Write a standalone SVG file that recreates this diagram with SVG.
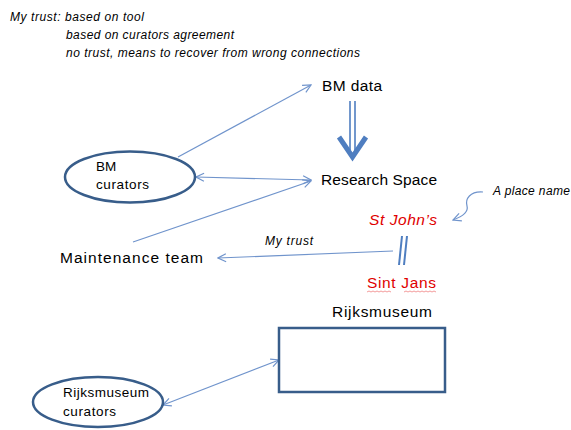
<svg xmlns="http://www.w3.org/2000/svg" width="571" height="430" viewBox="0 0 571 430">
<defs>
<style>
.t{font-family:"Liberation Sans",Arial,sans-serif;fill:#000}
.n{font-size:15.5px}
.s{font-size:13.5px}
.i{font-style:italic;font-size:12px}
.red{fill:#e00000;font-size:15.5px}
.c{fill:none;stroke:#7094cc;stroke-width:1.2}
.shape{fill:#fff;stroke:#385d8a;stroke-width:2.5}
.wave{fill:none;stroke:#f08080;stroke-width:0.8}
</style>
<marker id="ah" markerWidth="10" markerHeight="10" refX="9" refY="5" orient="auto-start-reverse" markerUnits="userSpaceOnUse">
<path d="M1,1 L9,5 L1,9" fill="none" stroke="#7094cc" stroke-width="1.2"/>
</marker>
</defs>
<rect width="571" height="430" fill="#fff"/>

<g id="notes">
<text class="t i" x="10" y="21" textLength="134">My trust: based on tool</text>
<text class="t i" x="66" y="39" textLength="168">based on curators agreement</text>
<text class="t i" x="66" y="57" textLength="294">no trust, means to recover from wrong connections</text>
</g>

<g id="connectors">
<line class="c" x1="178" y1="157" x2="311" y2="85" marker-end="url(#ah)"/>
<line class="c" x1="196" y1="177" x2="311" y2="180" marker-start="url(#ah)" marker-end="url(#ah)"/>
<line class="c" x1="133" y1="242" x2="311" y2="181" marker-end="url(#ah)"/>
<line class="c" x1="393" y1="251" x2="218" y2="258" marker-end="url(#ah)"/>
<line class="c" x1="163" y1="405" x2="279" y2="360" marker-start="url(#ah)" marker-end="url(#ah)"/>
<path class="c" d="M483,192 C470,191 465,199 467,206 C469,213 461,217 453,220" marker-end="url(#ah)"/>
<g id="bm-to-rs" stroke="#4f7ec0" fill="none">
<line x1="350" y1="101" x2="350" y2="152" stroke-width="1.6"/>
<line x1="355" y1="101" x2="355" y2="152" stroke-width="1.6"/>
<path d="M339,137 L352.5,157 L366,137" stroke-width="5" stroke-linejoin="miter"/>
</g>
<g id="equiv" stroke="#4f7ec0" stroke-width="2">
<line x1="402" y1="236" x2="399" y2="265"/>
<line x1="407" y1="236" x2="404" y2="265"/>
</g>
</g>

<g id="bm-data">
<text class="t n" x="322" y="90.5" textLength="60">BM data</text>
</g>

<g id="research-space">
<text class="t n" x="321" y="185" textLength="116">Research Space</text>
</g>

<g id="bm-curators">
<ellipse class="shape" cx="130" cy="177" rx="65" ry="25.5"/>
<text class="t s" x="96" y="170.5">BM</text>
<text class="t s" x="96" y="188.5" textLength="53">curators</text>
</g>

<g id="maintenance-team">
<text class="t n" x="60" y="263" textLength="143">Maintenance team</text>
</g>

<g id="my-trust-label">
<text class="t i" x="265" y="245" textLength="48">My trust</text>
</g>

<g id="st-johns">
<text class="t red" font-style="italic" x="369" y="225" textLength="68">St John’s</text>
</g>

<g id="place-name">
<text class="t i" x="493" y="195" textLength="77">A place name</text>
</g>

<g id="sint-jans">
<text class="t red" x="367" y="288" textLength="69">Sint Jans</text>
<path class="wave" d="M367,292 l2,-1 l2,1 l2,-1 l2,1 l2,-1 l2,1 l2,-1 l2,1 l2,-1 l2,1 l2,-1 l2,1"/>
<path class="wave" d="M404,292 l2,-1 l2,1 l2,-1 l2,1 l2,-1 l2,1 l2,-1 l2,1 l2,-1 l2,1 l2,-1 l2,1 l2,-1 l2,1 l2,-1 l2,1"/>
</g>

<g id="rijksmuseum">
<text class="t n" x="332" y="317" textLength="100">Rijksmuseum</text>
<rect class="shape" x="279" y="328" width="166" height="64"/>
</g>

<g id="rijksmuseum-curators">
<ellipse class="shape" cx="98" cy="402" rx="65" ry="25"/>
<text class="t s" x="63" y="397" textLength="86">Rijksmuseum</text>
<text class="t s" x="63" y="416" textLength="53">curators</text>
</g>
</svg>
